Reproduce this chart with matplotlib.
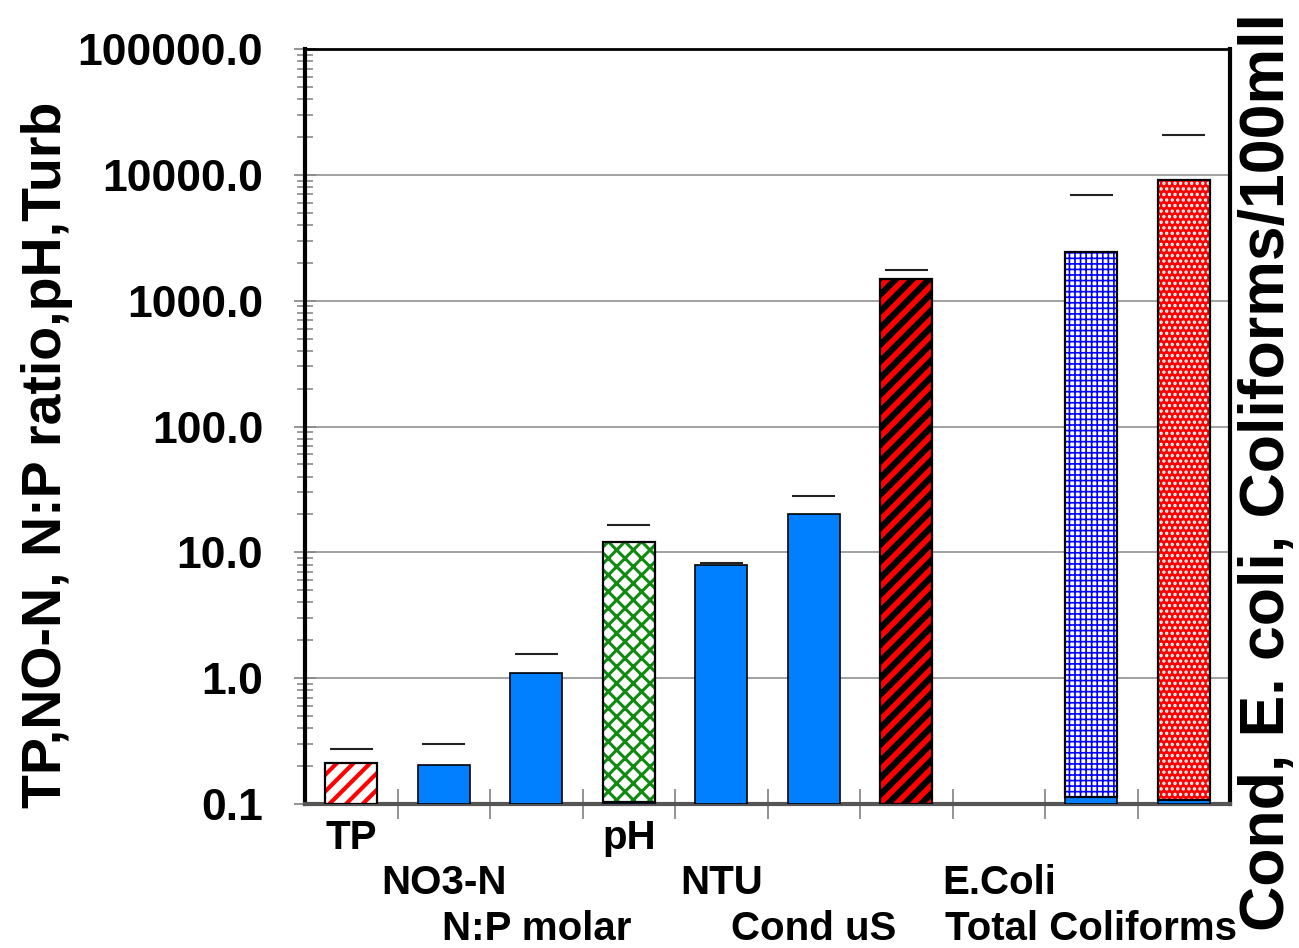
import numpy as np
import matplotlib
matplotlib.use("Agg")
import matplotlib.pyplot as plt
from matplotlib.ticker import LogLocator, FixedLocator, FuncFormatter

plt.rcParams['font.family'] = ['Liberation Sans', 'DejaVu Sans']
plt.rcParams['font.weight'] = 'bold'

# data
labels = ["TP", "NO3-N", "N:P molar", "pH", "NTU", "Cond uS", "", "E.Coli", "Total Coliforms", ""]
values = [0.21, 0.205, 1.09, 12.1, 7.9, 20.3, 1500, np.nan, 2450, 9150]
upper = [0.275, 0.30, 1.56, 16.6, 8.2, 28.0, 1760, np.nan, 6950, 20800]
base = [np.nan, np.nan, np.nan, 0.104, np.nan, np.nan, np.nan, np.nan, 0.113, 0.108]

# fill / hatch styling per bar
faces = ["white", "#0080FF", "#0080FF", "white", "#0080FF", "#0080FF", "black", "white", "white", "#FF0000"]
hatches = ["//", None, None, "xx", None, None, "//", None, "+++", "..."]
hatch_cols = ["#FF0000", None, None, "#108A10", None, None, "#FF0000", None, "#0000FF", "white"]
hatch_lw = [3.0, 0, 0, 2.2, 0, 0, 4.0, 0, 1.2, 1.6]

fig = plt.figure(figsize=(12.99, 9.48), dpi=100)
ax = fig.add_axes([0.2348, 0.1519, 0.7121, 0.7964])
ax.set_yscale("log")
ax.set_ylim(0.1, 100000)
ax.set_xlim(-0.5, 9.5)

x = np.arange(len(labels))
w = 0.56
ymin = 0.1

for i in x:
    v = values[i]
    if np.isnan(v):
        continue
    b = ymin
    if not np.isnan(base[i]):
        ax.bar(i, base[i] - ymin, bottom=ymin, width=w, color="#0080FF",
               edgecolor="black", linewidth=1.2, zorder=3)
        b = base[i]
    if hatches[i] is None:
        ax.bar(i, v - b, bottom=b, width=w, color=faces[i],
               edgecolor="black", linewidth=1.2, zorder=3)
    else:
        with plt.rc_context({"hatch.linewidth": hatch_lw[i]}):
            bc = ax.bar(i, v - b, bottom=b, width=w, color=faces[i],
                        edgecolor=hatch_cols[i], hatch=hatches[i], linewidth=0, zorder=3)
        for p in bc:
            if hasattr(p, "set_hatch_linewidth"):
                p.set_hatch_linewidth(hatch_lw[i])
            else:
                p._hatch_linewidth = hatch_lw[i]
        ax.bar(i, v - b, bottom=b, width=w, color="none",
               edgecolor="black", linewidth=1.6, zorder=4)

# upper error caps
ok = ~np.isnan(np.array(upper))
ax.hlines(np.array(upper)[ok], x[ok] - 0.23, x[ok] + 0.23, color="#222222", linewidth=1.5, zorder=4)

# grid + ticks
ax.yaxis.set_major_locator(LogLocator(base=10, numticks=10))
ax.yaxis.set_minor_locator(LogLocator(base=10, subs=np.arange(2, 10), numticks=20))
ax.yaxis.set_major_formatter(FuncFormatter(lambda v, p: f"{v:.1f}"))
ax.yaxis.set_minor_formatter(FuncFormatter(lambda v, p: ""))
ax.grid(axis="y", which="major", color="#9a9a9a", linewidth=1.3, zorder=0)
ax.tick_params(axis="y", which="major", direction="inout", length=16, width=1.3,
               color="#8a8a8a", labelsize=32, pad=22)
ax.tick_params(axis="y", which="minor", direction="inout", length=11, width=1.2, color="#8a8a8a")

ax.xaxis.set_major_locator(FixedLocator(np.arange(0.5, 9.5, 1.0)))
ax.xaxis.set_minor_locator(FixedLocator([]))
ax.tick_params(axis="x", which="major", direction="inout", length=22, width=1.3,
               color="#8a8a8a", labelbottom=False)

for i, lab in enumerate(labels):
    if not lab:
        continue
    level = i % 3
    ax.text(i, -0.045 - level * 0.06, lab, transform=ax.get_xaxis_transform(),
            ha="center", va="center", fontsize=29, fontweight="bold")

ax.spines["left"].set_linewidth(3)
ax.spines["right"].set_linewidth(3)
ax.spines["top"].set_linewidth(2)
ax.spines["bottom"].set_linewidth(3)
ax.spines["bottom"].set_color("#555555")

fig.text(0.036, 0.52, "TP,NO-N, N:P ratio,pH,Turb", rotation=90, ha="center", va="center",
         fontsize=40, fontweight="bold")
fig.text(0.976, 0.502, "Cond, E. coli, Coliforms/100mll", rotation=90, ha="center", va="center",
         fontsize=45, fontweight="bold")

fig.savefig("out.png", dpi=100)
